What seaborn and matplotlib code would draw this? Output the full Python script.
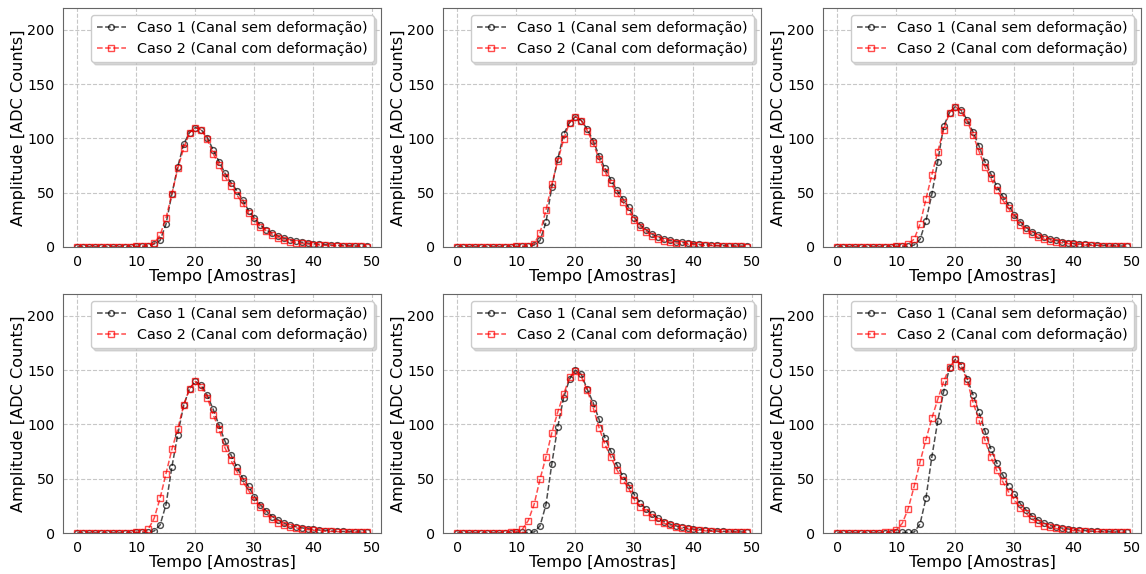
import numpy as np
import matplotlib
matplotlib.use('Agg')
import matplotlib.pyplot as plt
import seaborn as sns

amostras = np.arange(50)

# amplitudes (ADC counts), caso 1 = canal sem deformacao, caso 2 = com deformacao
caso1_110 = [0, 0, 0, 0, 0, 0, 0, 0, 0, 0,
             0.5, 0.6, 0.8, 2.8, 6, 21, 48.8, 74, 94.7, 105.4,
             110, 107.8, 100.8, 89.4, 78.6, 67.9, 59.3, 52, 43.3, 33.5,
             26.4, 20.3, 15.7, 12.6, 10, 8, 6.5, 5.3, 4.4, 3.6,
             3.0, 2.5, 2.1, 1.8, 1.5, 1.3, 1.1, 0.9, 0.8, 0.7]
caso2_110 = [0, 0, 0, 0, 0, 0, 0, 0, 0, 0,
             0.5, 0.7, 1.0, 3.4, 11, 26.5, 48.8, 72.5, 90.9, 105.4,
             110, 107.8, 99, 86, 75.5, 64.8, 56.2, 48, 40.3, 31,
             24.2, 18.8, 14.8, 11, 8.6, 6.4, 5, 4, 3.3, 2.7,
             2.2, 1.8, 1.5, 1.2, 1.0, 0.8, 0.7, 0.6, 0.5, 0.4]

caso1_120 = [0, 0, 0, 0, 0, 0, 0, 0, 0, 0,
             0.5, 0.5, 0.7, 1.8, 6, 22.7, 55.6, 80.8, 103.8, 114.6,
             120, 116.4, 108.4, 98, 84, 72.5, 61.8, 52.5, 44.6, 36.6,
             27, 20.3, 15.7, 11.8, 9, 7.3, 6, 5, 4.2, 3.5,
             2.9, 2.4, 2.0, 1.7, 1.4, 1.2, 1.0, 0.9, 0.8, 0.7]
caso2_120 = [0, 0, 0, 0, 0, 0, 0, 0, 0, 0,
             0.5, 0.7, 1.0, 2.8, 13, 34, 57.8, 79.5, 99, 114.6,
             120, 116.4, 107, 95.6, 81, 69.5, 58.7, 49.5, 41.8, 33.2,
             25, 18.8, 14.2, 10.2, 7.5, 5.5, 4.5, 3.7, 3.0, 2.5,
             2.1, 1.7, 1.4, 1.2, 1.0, 0.8, 0.7, 0.6, 0.5, 0.4]

caso1_130 = [0, 0, 0, 0, 0, 0, 0, 0, 0, 0,
             0.5, 0.5, 0.6, 1.8, 7, 24, 48.5, 78.6, 111, 123.8,
             129.3, 125.7, 117, 105.7, 93, 78.6, 67.3, 56.2, 46.9, 38.7,
             29.5, 23.4, 17.8, 14.2, 11, 9, 7.3, 6, 5, 4.1,
             3.4, 2.8, 2.3, 1.9, 1.6, 1.3, 1.1, 1.0, 0.9, 0.8]
caso2_130 = [0, 0, 0, 0, 0, 0, 0, 0, 0, 0,
             0.6, 1.0, 2.8, 7.2, 21, 44, 66.4, 87.9, 108, 123.8,
             129.3, 124.5, 115.5, 103, 88, 74, 63.3, 52.5, 43.3, 35.6,
             27.4, 20.3, 15.7, 12, 9, 7.3, 5.8, 4.7, 3.8, 3.1,
             2.5, 2.1, 1.7, 1.4, 1.2, 1.0, 0.8, 0.7, 0.6, 0.5]

caso1_140 = [0, 0, 0, 0, 0, 0, 0, 0, 0, 0,
             0.5, 0.5, 0.6, 1.9, 7.4, 26, 60.8, 90.7, 117.6, 133,
             139.5, 136, 126.8, 113.9, 99, 84.6, 72.2, 60.8, 50.6, 42.9,
             33.6, 26, 20.4, 15.2, 12, 9, 7, 5.8, 4.8, 4.0,
             3.3, 2.7, 2.3, 1.9, 1.6, 1.4, 1.2, 1.0, 0.9, 0.8]
caso2_140 = [0, 0, 0, 0, 0, 0, 0, 0, 0, 0.3,
             0.6, 1.2, 3.4, 13.6, 32, 54.6, 76.9, 96, 117.6, 133,
             139.5, 134, 124.7, 109, 95.4, 78.4, 67, 56.8, 47.5, 39.2,
             30.6, 23.8, 18.2, 12.7, 9.6, 7.4, 5.8, 4.7, 3.8, 3.1,
             2.6, 2.1, 1.7, 1.4, 1.2, 1.0, 0.8, 0.7, 0.6, 0.5]

caso1_150 = [0, 0, 0, 0, 0, 0, 0, 0, 0, 0,
             0.5, 0.5, 0.5, 0.9, 6.6, 26, 63.9, 97.8, 124.7, 141.7,
             150, 146, 132.4, 120, 104.6, 87.7, 75.3, 63, 52.8, 44.5,
             35.2, 27.5, 21.9, 17.3, 13.6, 10.5, 8.3, 6.6, 5.4, 4.4,
             3.6, 3.0, 2.5, 2.1, 1.8, 1.5, 1.3, 1.1, 1.0, 0.9]
caso2_150 = [0, 0, 0, 0, 0, 0, 0, 0, 0.4, 0.6,
             1.0, 3.4, 11.4, 26.5, 49.7, 70, 92.3, 111.4, 127.8, 143.2,
             149.4, 144, 131.5, 115.4, 97, 81.5, 70, 58.3, 49, 41.4,
             30.6, 24.4, 19.7, 15.2, 11.4, 9, 7, 5.5, 4.4, 3.6,
             2.9, 2.4, 2.0, 1.6, 1.3, 1.1, 0.9, 0.8, 0.7, 0.6]

caso1_160 = [0, 0, 0, 0, 0, 0, 0, 0, 0, 0,
             0.5, 0.5, 0.5, 0.8, 8.3, 32, 70, 103, 130, 152,
             160, 155, 142, 127, 111, 94, 77.5, 64.5, 53.7, 43,
             36, 27, 21, 15.7, 12, 9, 7, 5.6, 4.6, 3.8,
             3.1, 2.6, 2.2, 1.8, 1.5, 1.3, 1.1, 1.0, 0.9, 0.8]
caso2_160 = [0, 0, 0, 0, 0, 0, 0, 0, 0.5, 0.8,
             2.8, 9, 22.5, 42.9, 65.4, 86, 105.6, 123, 139.5, 152.5,
             160, 154, 140, 120, 104, 85.5, 70, 57.7, 47.5, 38,
             30.5, 23, 18, 12.7, 9.5, 6.8, 5.3, 4.2, 3.4, 2.8,
             2.3, 1.9, 1.6, 1.3, 1.1, 0.9, 0.8, 0.7, 0.6, 0.5]

rotulo1 = 'Caso 1 (Canal sem deformação)'
rotulo2 = 'Caso 2 (Canal com deformação)'
xticks = [0, 10, 20, 30, 40, 50]
yticks = [0, 50, 100, 150, 200]

sns.set_style('whitegrid', {'grid.linestyle': '--', 'grid.color': '.78', 'axes.edgecolor': '.4',
                            'text.color': 'black', 'axes.labelcolor': 'black',
                            'xtick.color': 'black', 'ytick.color': 'black'})

fig, axes = plt.subplots(2, 3, figsize=(11.46, 5.74), dpi=100)
fig.subplots_adjust(left=0.055, right=0.9956, top=0.986, bottom=0.0714, wspace=0.195, hspace=0.197)

pares = [(caso1_110, caso2_110), (caso1_120, caso2_120), (caso1_130, caso2_130),
         (caso1_140, caso2_140), (caso1_150, caso2_150), (caso1_160, caso2_160)]

for ax, (c1, c2) in zip(axes.flat, pares):
    sns.lineplot(x=amostras, y=c1, ax=ax, color='k', linestyle='--', linewidth=1.1,
                 marker='o', markersize=4.2, markerfacecolor='none', markeredgecolor='k',
                 markeredgewidth=1.0, alpha=0.7, label=rotulo1)
    sns.lineplot(x=amostras, y=c2, ax=ax, color='red', linestyle='--', linewidth=1.1,
                 marker='s', markersize=4.2, markerfacecolor='none', markeredgecolor='red',
                 markeredgewidth=1.0, alpha=0.7, label=rotulo2)
    ax.set_xlim(-2.45, 51.45)
    ax.set_ylim(0, 220)
    ax.set_xticks(xticks)
    ax.set_yticks(yticks)
    ax.tick_params(labelsize=10.3, pad=2.5)
    ax.set_xlabel('Tempo [Amostras]', fontsize=11.6, labelpad=0)
    ax.set_ylabel('Amplitude [ADC Counts]', fontsize=11.6, labelpad=1)
    leg = ax.legend(loc='upper right', fontsize=10.4, shadow={'color': '0.75', 'alpha': 0.6},
                    fancybox=True, framealpha=1)
    leg.get_frame().set_edgecolor('.8')

fig.savefig('out.png', dpi=100)
